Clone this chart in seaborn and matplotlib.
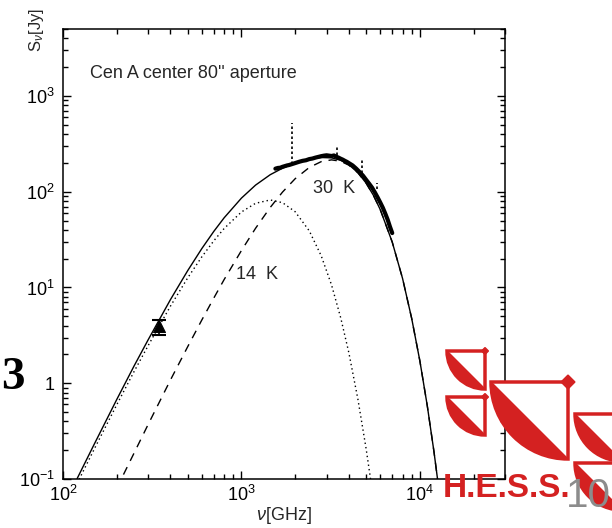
import numpy as np
import pandas as pd
import matplotlib
matplotlib.use("Agg")
import matplotlib.pyplot as plt
import seaborn as sns
from matplotlib.patches import Wedge, Polygon
from matplotlib.transforms import IdentityTransform
from matplotlib.ticker import FixedLocator, FixedFormatter, LogLocator, NullFormatter

# ---------------- data ----------------
# 14 K component (dotted)
nu_14k = [120, 150, 200, 250, 300, 400, 500, 600, 700, 800, 1000, 1200, 1450,
          1700, 2000, 2400, 2800, 3200, 3600, 4000, 4500, 5000, 5300, 5500]
s_14k = [0.090, 0.207, 0.595, 1.32, 2.47, 6.38, 12.6, 20.9, 30.7, 41.3, 61.4,
         75.7, 82.0, 76.8, 61.8, 39.0, 21.4, 10.6, 4.83, 2.08, 0.673, 0.206,
         0.098, 0.060]

# 30 K component (dashed)
nu_30k = [200, 250, 300, 400, 500, 600, 700, 800, 1000, 1200, 1450, 1700, 2000,
          2400, 2800, 3200, 3600, 4000, 4500, 5000, 5500, 6000, 7000, 8000,
          9000, 10000, 11000, 12000, 13000]
s_30k = [0.080, 0.186, 0.371, 1.08, 2.41, 4.58, 7.75, 12.1, 24.3, 41.5, 68.5,
         99.2, 136.6, 179.1, 206.1, 215.0, 207.9, 189.2, 157.1, 122.6, 91.1,
         64.9, 29.8, 12.4, 4.74, 1.71, 0.584, 0.192, 0.061]

# total model (solid)
nu_total = [120, 150, 200, 250, 300, 400, 500, 600, 700, 800, 1000, 1200, 1450,
            1700, 2000, 2400, 2800, 3200, 3600, 4000, 4500, 5000, 5500, 6000,
            7000, 8000, 9000, 10000, 11000, 12000, 13000]
s_total = [0.101, 0.233, 0.675, 1.51, 2.84, 7.46, 15.0, 25.5, 38.5, 53.4, 85.7,
           117.2, 150.5, 176.0, 198.4, 218.1, 227.5, 225.6, 212.7, 191.3, 157.8,
           122.8, 91.2, 64.9, 29.8, 12.4, 4.74, 1.71, 0.584, 0.192, 0.061]

# observed spectrum (thick line)
nu_obs = [1550, 1600, 1650, 1700, 1750, 1800, 1850, 1900, 1950, 2000, 2100,
          2200, 2300, 2400, 2500, 2600, 2700, 2800, 2900, 3000, 3100, 3200,
          3300, 3400, 3500, 3600, 3700, 3800, 3900, 4000, 4200, 4400, 4600,
          4800, 5000, 5200, 5400, 5600, 5800, 6000, 6200, 6400, 6600, 6800, 7000]
s_obs = [174, 177, 178, 182, 185, 188, 190, 193, 196, 199, 205, 210, 213, 219,
         222, 227, 231, 235, 238, 240, 238, 236, 239, 232, 227, 221, 216, 210,
         205, 199, 188, 174, 160, 147, 133, 121, 110, 98, 87, 77, 68, 59, 51,
         43, 37]

# spurious spikes (dotted vertical segments)
spike_nu = [1915, 3430, 4730, 5760]
spike_lo = [195, 240, 158, 106]
spike_hi = [520, 305, 225, 122]

# photometric point with error bar
phot_nu = [345]
phot_s = [4.0]
phot_lo = [3.2]
phot_hi = [4.6]

xtick_vals = [1e2, 1e3, 1e4]
xtick_labels = ["10$^2$", "10$^3$", "10$^4$"]
ytick_vals = [1e-1, 1e0, 1e1, 1e2, 1e3]
ytick_labels = ["10$^{-1}$", "1", "10$^1$", "10$^2$", "10$^3$"]

# ---------------- style ----------------
sns.set_style("ticks")
plt.rcParams["font.family"] = ["Liberation Sans", "DejaVu Sans"]
plt.rcParams["mathtext.fontset"] = "custom"
plt.rcParams["mathtext.rm"] = "Liberation Sans"
plt.rcParams["mathtext.it"] = "Liberation Sans:italic"
plt.rcParams["mathtext.bf"] = "Liberation Sans:bold"

fig = plt.figure(figsize=(6.12, 5.28), dpi=100, facecolor="white")
ax = fig.add_axes([63 / 612, 49 / 528, 442 / 612, 450 / 528])
ax.set_facecolor("white")

df14 = pd.DataFrame({"nu": nu_14k, "S": s_14k})
df30 = pd.DataFrame({"nu": nu_30k, "S": s_30k})
dft = pd.DataFrame({"nu": nu_total, "S": s_total})
dfo = pd.DataFrame({"nu": nu_obs, "S": s_obs})

sns.lineplot(data=dft, x="nu", y="S", ax=ax, color="black", lw=1.0,
             estimator=None, sort=False)
sns.lineplot(data=df14, x="nu", y="S", ax=ax, color="black", lw=1.0,
             linestyle=(0, (1, 2.2)), estimator=None, sort=False)
sns.lineplot(data=df30, x="nu", y="S", ax=ax, color="black", lw=1.0,
             linestyle=(0, (6, 5)), estimator=None, sort=False)
sns.lineplot(data=dfo, x="nu", y="S", ax=ax, color="black", lw=3.0,
             estimator=None, sort=False, solid_capstyle="round")
ax.vlines(spike_nu, spike_lo, spike_hi, colors="black", linestyles=(0, (1.5, 1.5)),
          lw=1.2)

yerr = [np.array(phot_s) - np.array(phot_lo), np.array(phot_hi) - np.array(phot_s)]
ax.errorbar(phot_nu, phot_s, yerr=yerr, fmt="none", ecolor="black",
            elinewidth=1.2, capsize=5, capthick=1.5)
sns.scatterplot(x=phot_nu, y=phot_s, ax=ax, marker="^", s=75, color="black",
                edgecolor="black", zorder=5)

ax.set_xscale("log")
ax.set_yscale("log")
ax.set_xlim(100, 3e4)
ax.set_ylim(0.1, 5000)

ax.xaxis.set_major_locator(FixedLocator(xtick_vals))
ax.xaxis.set_major_formatter(FixedFormatter(xtick_labels))
ax.yaxis.set_major_locator(FixedLocator(ytick_vals))
ax.yaxis.set_major_formatter(FixedFormatter(ytick_labels))
ax.xaxis.set_minor_locator(LogLocator(base=10, subs=np.arange(2, 10), numticks=20))
ax.yaxis.set_minor_locator(LogLocator(base=10, subs=np.arange(2, 10), numticks=20))
ax.xaxis.set_minor_formatter(NullFormatter())
ax.yaxis.set_minor_formatter(NullFormatter())

ax.tick_params(which="both", direction="in", top=True, right=True,
               colors="black", width=1.0)
ax.tick_params(which="major", length=6, labelsize=13)
ax.tick_params(axis="y", which="major", pad=6)
ax.tick_params(axis="x", which="major", pad=4)
ax.tick_params(which="minor", length=3.6)
for sp in ax.spines.values():
    sp.set_visible(True)
    sp.set_color("black")
    sp.set_linewidth(1.1)

ax.set_xlabel(r"$\nu$[GHz]", fontsize=13, labelpad=0)
ax.set_ylabel("")
ax.text(-0.061, 0.998, r"S$_\nu$[Jy]", rotation=90, transform=ax.transAxes,
        ha="center", va="center", fontsize=12)

ax.text(0.061, 0.902, "Cen A center 80'' aperture", transform=ax.transAxes,
        ha="left", va="center", fontsize=13)
ax.text(3311, 108, "30  K", ha="center", va="center", fontsize=13)
ax.text(1230, 13.6, "14  K", ha="center", va="center", fontsize=13)

# ---------------- slide decorations ----------------
fig.text(1 / 612, (528 - 389) / 528, "3", ha="left", va="baseline",
         fontsize=34, fontweight="bold", family="Liberation Serif", color="black")

red = "#d42121"
H = 528
ident = IdentityTransform()
dishes = [(485, 351, 38), (485, 397, 38), (568, 382, 77), (622, 414, 47),
          (622, 463, 47)]
for cx, cy_img, r in dishes:
    cy = H - cy_img
    w = Wedge((cx, cy), r, 180, 270, facecolor="white", edgecolor=red, lw=2.5,
              transform=ident)
    fig.add_artist(w)
    ang = np.linspace(np.pi, 1.5 * np.pi, 40)
    pts = np.column_stack([cx + r * np.cos(ang), cy + r * np.sin(ang)])
    seg = Polygon(pts, closed=True, facecolor=red, edgecolor=red, lw=1,
                  transform=ident)
    fig.add_artist(seg)
    d = max(3, r * 0.09)
    dia = Polygon([(cx, cy + d), (cx + d, cy), (cx, cy - d), (cx - d, cy)],
                  closed=True, facecolor=red, edgecolor=red, transform=ident)
    fig.add_artist(dia)

fig.text(443 / 612, (528 - 497) / 528, "H.E.S.S.", ha="left", va="baseline",
         fontsize=24, fontweight="bold", color=red, family="Liberation Sans")
fig.text(566 / 612, (528 - 507) / 528, "10", ha="left", va="baseline",
         fontsize=29, color="#8c8c8c", family="Liberation Sans")

fig.savefig("out.png", dpi=100, facecolor="white")
